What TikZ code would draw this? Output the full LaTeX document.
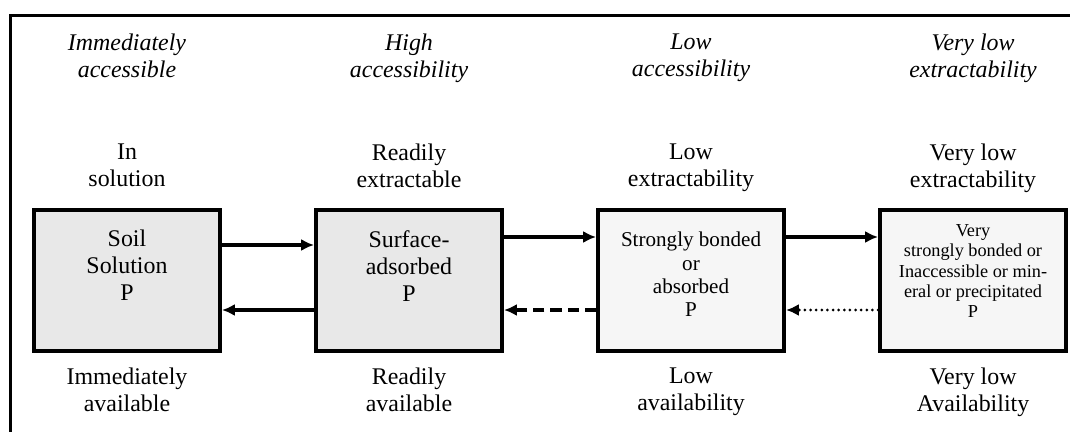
\documentclass[tikz,border=0pt]{standalone}
\usepackage{fontspec}
\setmainfont{Liberation Serif}
\usepackage{xcolor}
\usetikzlibrary{arrows.meta, positioning}

\definecolor{poolgray}{HTML}{E8E8E8}
\definecolor{poollight}{HTML}{F6F6F6}

\begin{document}
\begin{tikzpicture}[x=0.025cm, y=-0.025cm, node distance=2.3cm,
    pbox/.style={draw, line width=2.8pt, rectangle, minimum width=4.65cm, minimum height=3.525cm},
    lbl/.style={align=center, anchor=north, font=\fontsize{17}{19.2}\selectfont},
    hdr/.style={lbl, font=\fontsize{17}{19.2}\selectfont\itshape},
    flow/.style={line width=2.6pt, -{Latex[length=3.2mm, width=3mm]}}]
        \useasboundingbox (0,0) rectangle (1070,432);
        \draw[line width=2.4pt] (10.5,15.5) rectangle (1090,460);

        % phosphorus pools
        \node (soil) [pbox, fill=poolgray] at (127,280.5) {};
        \node (surf) [pbox, fill=poolgray, right=of soil] {};
        \node (strong) [pbox, fill=poollight, right=of surf] {};
        \node (vstrong) [pbox, fill=poollight, right=of strong] {};

        \node (soiltxt) [lbl, below=0.43cm of soil.north] {Soil\\Solution\\P};
        \node (surftxt) [lbl, below=0.43cm of surf.north] {Surface-\\adsorbed\\P};
        \node (strongtxt) [lbl, font=\fontsize{15}{16.6}\selectfont, below=0.48cm of strong.north] {Strongly bonded\\or\\absorbed\\P};
        \node (vstrongtxt) [lbl, font=\fontsize{13}{14.4}\selectfont, below=0.29cm of vstrong.north] {Very\\strongly bonded or\\Inaccessible or min-\\eral or precipitated\\P};

        % accessibility
        \node (soilhdr) [hdr] at (soil |- 0,29) {Immediately\\accessible};
        \node (surfhdr) [hdr] at (surf |- 0,29) {High\\accessibility};
        \node (stronghdr) [hdr] at (strong |- 0,29) {Low\\accessibility};
        \node (vstronghdr) [hdr] at (vstrong |- 0,29) {Very low\\extractability};

        % extractability
        \node (soilext) [lbl] at (soil |- 0,139) {In\\solution};
        \node (surfext) [lbl] at (surf |- 0,139) {Readily\\extractable};
        \node (strongext) [lbl] at (strong |- 0,139) {Low\\extractability};
        \node (vstrongext) [lbl] at (vstrong |- 0,139) {Very low\\extractability};

        % availability
        \node (soilavl) [lbl, below=0.25cm of soil] {Immediately\\available};
        \node (surfavl) [lbl, below=0.25cm of surf] {Readily\\available};
        \node (strongavl) [lbl, below=0.25cm of strong] {Low\\availability};
        \node (vstrongavl) [lbl, below=0.25cm of vstrong] {Very low\\Availability};

        \draw[flow] (soil.east |- 0,245) -- (surf.west |- 0,245);
        \draw[flow] (surf.east |- 0,237) -- (strong.west |- 0,237);
        \draw[flow] (strong.east |- 0,237) -- (vstrong.west |- 0,237);
        \draw[flow] (surf.west |- 0,310) -- (soil.east |- 0,310);
        \draw[flow, dash pattern=on 0.28cm off 0.15cm] (strong.west |- 0,310) -- (surf.east |- 0,310);
        \draw[flow, line width=2.2pt, line cap=round, dash pattern=on 0pt off 4pt] (vstrong.west |- 0,310) -- (strong.east |- 0,310);
    \end{tikzpicture}
\end{document}
